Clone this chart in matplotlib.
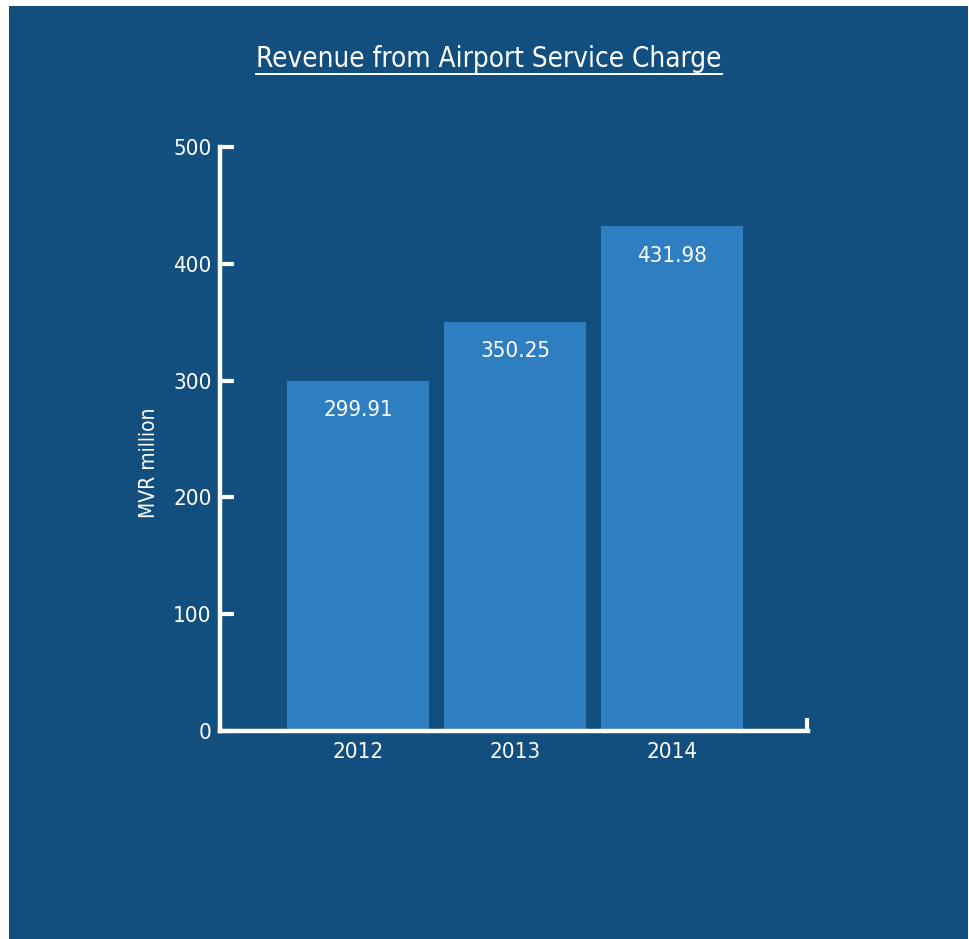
import matplotlib
matplotlib.use("Agg")
import matplotlib.pyplot as plt
from matplotlib.lines import Line2D
from matplotlib import font_manager

years = ["2012", "2013", "2014"]
values = [299.91, 350.25, 431.98]
value_labels = ["299.91", "350.25", "431.98"]
yticks = [0, 100, 200, 300, 400, 500]

names = {f.name for f in font_manager.fontManager.ttflist}
FONT = "Liberation Sans Narrow" if "Liberation Sans Narrow" in names else "DejaVu Sans"
plt.rcParams['font.family'] = [FONT, 'DejaVu Sans']
plt.rcParams['font.stretch'] = 'condensed'

BG = "#134F7E"
BAR = "#2F7EC2"
W, H = 969, 939
fig = plt.figure(figsize=(W/100, H/100), dpi=100, facecolor="white")
bgax = fig.add_axes([9/W, 0, (968-9)/W, (939-6)/H], zorder=-5)
bgax.set_facecolor(BG)
bgax.set_xticks([]); bgax.set_yticks([])
for s in bgax.spines.values():
    s.set_visible(False)

ax = fig.add_axes([220/W, (939-731)/H, 588/W, 584/H], zorder=1)
ax.set_facecolor("none")
x = list(range(len(years)))
ax.bar(x, values, width=0.9, color=BAR, zorder=2)
ax.set_xlim(-0.879, 2.866)
ax.set_ylim(0, 500)

for s in ["top", "right"]:
    ax.spines[s].set_visible(False)
for s in ["left", "bottom"]:
    ax.spines[s].set_color("white")
    ax.spines[s].set_linewidth(3.2)
    ax.spines[s].set_capstyle("projecting")

ax.set_yticks(yticks)
ax.set_yticklabels([str(t) for t in yticks])
ax.tick_params(axis="y", direction="in", length=10, width=3, color="white",
               labelcolor="white", labelsize=16, pad=6)
ax.set_xticks(x)
ax.set_xticklabels(years)
ax.tick_params(axis="x", length=0, labelcolor="white", labelsize=16, pad=8)

# right end vertical tick of x axis
ax.add_line(Line2D([1.0 - 1.5/588, 1.0 - 1.5/588], [0, 13/584], transform=ax.transAxes,
                   color="white", lw=3, clip_on=False, solid_capstyle="butt"))

for xi, v, lab in zip(x, values, value_labels):
    ax.annotate(lab, xy=(xi, v), xytext=(0, -21), textcoords="offset points",
                ha="center", va="center", color="white", fontsize=16, zorder=3)

ax.set_ylabel("MVR million", color="white", fontsize=15)
ax.yaxis.set_label_coords(-0.104, 0.46)

t = fig.text(489/W, 1 - 59/H, "Revenue from Airport Service Charge", ha="center",
             va="center", color="white", fontsize=20)
fig.canvas.draw()
bb = t.get_window_extent(fig.canvas.get_renderer())
uy = 1 - 74/H
fig.add_artist(Line2D([bb.x0/W, bb.x1/W], [uy, uy], transform=fig.transFigure,
                      color="white", lw=1.4))

fig.savefig("out.png", dpi=100, facecolor=fig.get_facecolor())
